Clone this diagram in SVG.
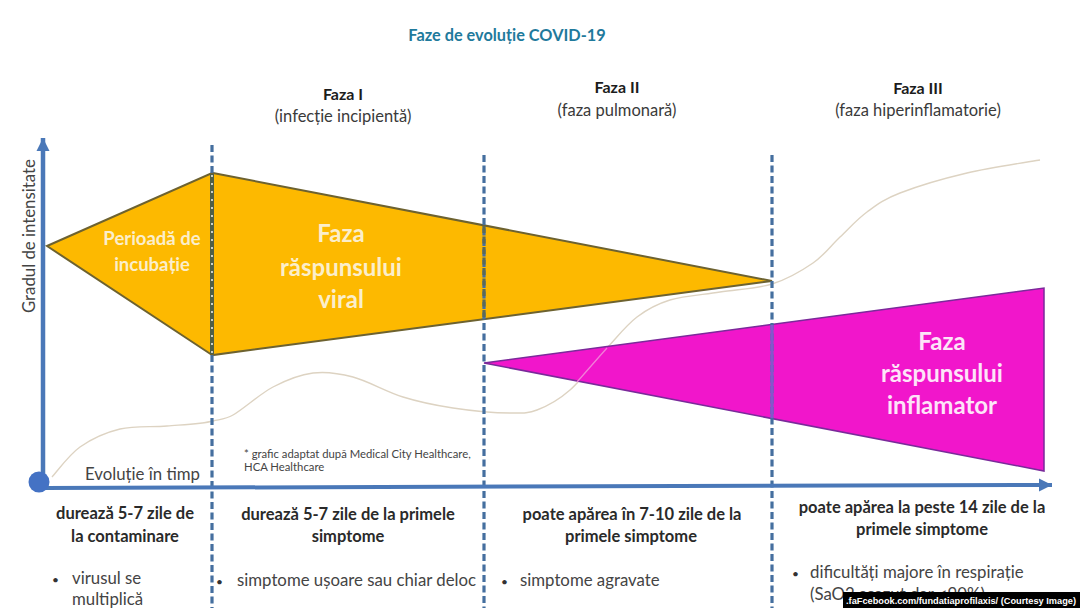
<svg xmlns="http://www.w3.org/2000/svg" width="1080" height="608" viewBox="0 0 1080 608">
<style>
text{font-family:"Lato","Noto Sans","Liberation Sans",sans-serif;fill:#333}
.c{text-anchor:middle}
.h{font-size:16px;font-weight:700;fill:#1c1c1c}
.s{font-size:16.5px;fill:#3a3a3a}
.b{font-size:16.5px;font-weight:700;fill:#2a2a2a;text-anchor:middle}
.l{font-size:16.8px;fill:#444}
.d{font-size:12px;fill:#333}
.w{font-weight:700;fill:#fbeecb;text-anchor:middle;font-size:24px}
.w2{font-size:18.5px}
.p{font-weight:700;fill:#fde4f8;text-anchor:middle;font-size:24px}
.dash{stroke:#456f9f;stroke-width:3.2;stroke-dasharray:7 3.5;fill:none}
.tri{stroke:#6d6230;stroke-width:2;fill:#fdb900}
</style>
<defs>
<marker id="ah" markerUnits="userSpaceOnUse" markerWidth="14" markerHeight="14" refX="13" refY="7" orient="auto"><path d="M0 0.5L13 7L0 13.5z" fill="#4a78b8"/></marker>
</defs>
<rect width="1080" height="608" fill="#fff"/>
<text id="title" class="c" x="507" y="41" font-size="16.3" font-weight="700" style="fill:#1f7a9c">Faze de evoluție COVID-19</text>
<g id="headers">
<text class="h c" x="343" y="100">Faza I</text><text class="s c" x="343" y="122">(infecție incipientă)</text>
<text class="h c" x="617" y="93">Faza II</text><text class="s c" x="617" y="116">(faza pulmonară)</text>
<text class="h c" x="918" y="94">Faza III</text><text class="s c" x="918" y="116">(faza hiperinflamatorie)</text>
</g>
<g id="curve"><path d="M52 477C56.7 472 68.7 455 80 447C91.3 439 105.5 432.5 120 429C134.5 425.5 151.5 427.3 167 426C182.5 424.7 202 424 213 421C222 419 226 419 233 415C243 409.3 259.7 394 273 387C286.3 380 299.7 374.7 313 373C326.3 371.3 338 373 353 377C368 381 386.3 391.8 403 397C419.7 402.2 435.2 405.3 453 408C470.8 410.7 496 413 510 413C522 413 528 413.5 537 410C547 406.2 558.3 400.3 570 390C581.7 379.7 595.8 360.2 607 348C618.2 335.8 626.5 325 637 317C647.5 309 656.2 304.2 670 300C683.8 295.8 703 294.7 720 292C737 289.3 756.5 288.8 772 284C787.5 279.2 801.7 270.8 813 263C824.3 255.2 831 245.5 840 237C849 228.5 857 219.3 867 212C877 204.7 883.3 199.5 900 193C916.7 186.5 943.7 178.5 967 173C990.3 167.5 1028 162 1040 160" fill="none" stroke="#ddd3c2" stroke-width="1.4"/></g>
<g id="node-incubatie">
<path class="tri" d="M47 246L212 173V355z"/>
<text class="w w2" x="152" y="245">Perioadă de</text>
<text class="w w2" x="152" y="271">incubație</text>
</g>
<g id="node-viral">
<path class="tri" d="M213 173L772 281L213 355z"/>
<text class="w" x="341" y="242">Faza</text><text class="w" x="341" y="276">răspunsului</text><text class="w" x="341" y="308">viral</text>
</g>
<g id="node-inflamator">
<path d="M484 363L1044 288V471z" fill="#f116cb" stroke="#7a2a9a" stroke-width="1.5"/>
<path d="M577 382C586 372 597 359 607 348" fill="none" stroke="#f27ed8" stroke-width="1.3"/>
<text class="p" x="942" y="350">Faza</text><text class="p" x="942" y="382">răspunsului</text><text class="p" x="942" y="414">inflamator</text>
</g>
<g id="connectors">
<path class="dash" d="M212 145V608"/>
<path d="M212 174V354" stroke="#4f5f48" stroke-width="4"/>
<path d="M212 175V354" stroke="#fff" stroke-width="1.4" stroke-dasharray="2 6"/>
<path class="dash" d="M484 155V608"/>
<path d="M484 226V319" stroke="#5c6a58" stroke-width="3.2" stroke-dasharray="7 3.5"/>
<path class="dash" d="M772 155V608"/>
<path d="M772 325V418" stroke="#8456cc" stroke-width="3.2"/>
<path d="M43 482V138" stroke="#4a78b8" stroke-width="4.5" fill="none" marker-end="url(#ah)"/>
<path d="M45 488L1052 485" stroke="#4a78b8" stroke-width="4" fill="none" marker-end="url(#ah)"/>
<circle cx="39" cy="482" r="10.5" fill="#4472c4"/>
</g>
<g id="axis-labels">
<text class="l" transform="translate(35 313) rotate(-90)">Gradul de intensitate</text>
<text class="l" x="85" y="480">Evoluție în timp</text>
<text x="244" y="458" font-size="11.3" style="fill:#444">* grafic adaptat după Medical City Healthcare,</text>
<text x="244" y="471" font-size="11.3" style="fill:#444">HCA Healthcare</text>
</g>
<g id="col1"><text class="b" x="125" y="519">durează 5-7 zile de</text><text class="b" x="125" y="542">la contaminare</text>
<text class="d" x="52" y="584">•</text><text class="l" x="72" y="584">virusul se</text><text class="l" x="72" y="605">multiplică</text></g>
<g id="col2"><text class="b" x="348" y="520">durează 5-7 zile de la primele</text><text class="b" x="348" y="542">simptome</text>
<text class="d" x="216" y="586">•</text><text class="l" x="237" y="586">simptome ușoare sau chiar deloc</text></g>
<g id="col3"><text class="b" x="632" y="520">poate apărea în 7-10 zile de la</text><text class="b" x="631" y="542">primele simptome</text>
<text class="d" x="501" y="586">•</text><text class="l" x="520" y="586">simptome agravate</text></g>
<g id="col4"><text class="b" x="922" y="513">poate apărea la peste 14 zile de la</text><text class="b" x="922" y="535">primele simptome</text>
<text class="d" x="792" y="578">•</text><text class="l" x="810" y="578">dificultăți majore în respirație</text><text class="l" x="810" y="600">(SaO2 scazut dar &lt;90%)</text></g>
<g id="credit"><rect x="843" y="592" width="237" height="16" fill="#000"/>
<text x="846" y="604" font-size="9.4" font-weight="700" textLength="230" lengthAdjust="spacingAndGlyphs" style="font-family:'Liberation Sans',sans-serif;fill:#fff">.faFcebook.com/fundatiaprofilaxis/ (Courtesy Image)</text></g>
</svg>
